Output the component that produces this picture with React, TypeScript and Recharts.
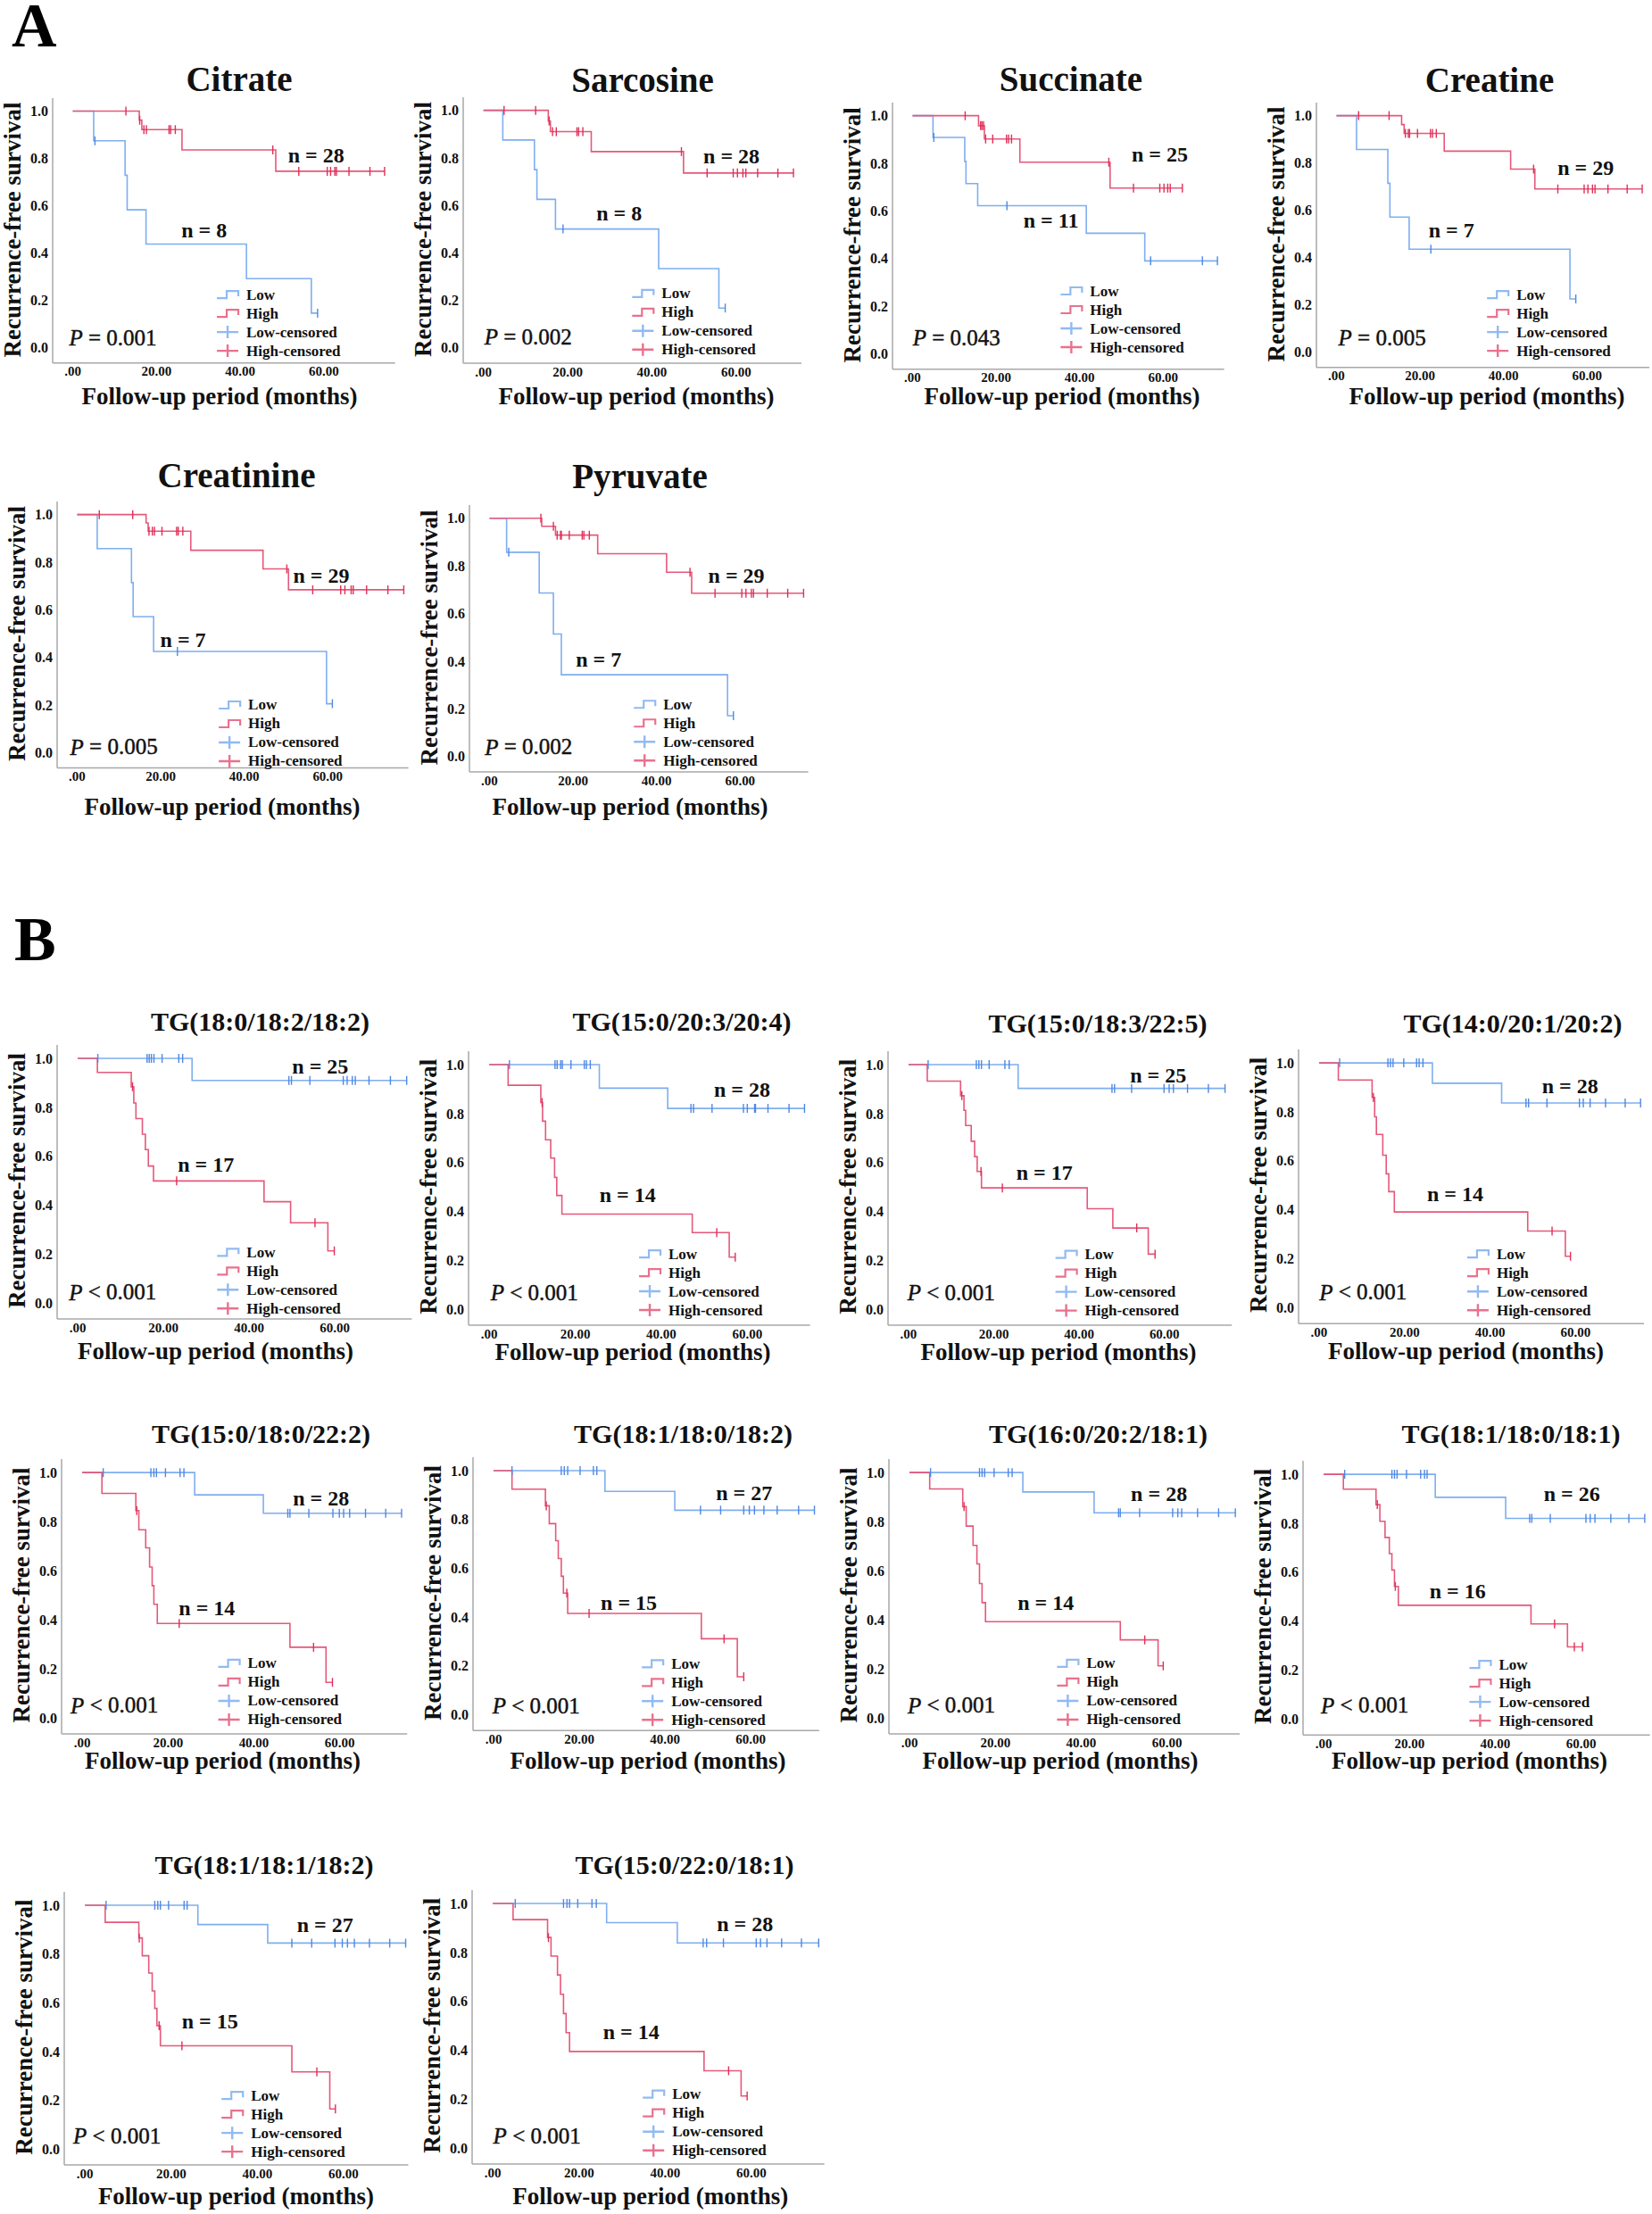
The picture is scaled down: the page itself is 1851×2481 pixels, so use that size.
import React from 'react';
import { ComposedChart, Line, Scatter, XAxis, YAxis } from 'recharts';

const FONT = '"Liberation Serif", "Times New Roman", serif';
const LOW = '#7eaef0';
const HIGH = '#e5587a';
const LOW_MARK = '#4f88e3';
const HIGH_MARK = '#e02f58';
const AXIS = '#a8a8a8';

// survival curves: events as [months, survival after event], censored as months
const citrateLow = [[5.0, 0.875], [12.5, 0.729], [13.0, 0.583], [17.5, 0.438], [41.5, 0.292], [57.0, 0.146]];
const citrateLowCens = [5.3, 58.5];
const citrateHigh = [[15.9, 0.962], [16.5, 0.922], [26.1, 0.836], [48.5, 0.746]];
const citrateHighCens = [12.7, 16.0, 17.0, 17.6, 23.0, 23.4, 24.5, 47.8, 54.0, 60.8, 61.6, 62.6, 63.0, 66.0, 71.0, 74.5];

const sarcosineLow = [[4.6, 0.875], [12.1, 0.75], [12.7, 0.625], [17.1, 0.5], [41.6, 0.333], [55.9, 0.167]];
const sarcosineLowCens = [18.9, 57.4];
const sarcosineHigh = [[15.4, 0.955], [15.9, 0.91], [25.6, 0.826], [47.5, 0.736]];
const sarcosineHighCens = [4.9, 12.4, 15.6, 16.4, 17.3, 22.2, 22.6, 23.6, 47.0, 53.1, 59.3, 60.3, 61.6, 62.3, 65.1, 69.9, 73.6];

const succinateLow = [[4.9, 0.909], [12.5, 0.808], [12.8, 0.715], [15.6, 0.622], [41.6, 0.506], [55.6, 0.39]];
const succinateLowCens = [5.1, 22.6, 57.0, 69.4, 73.0];
const succinateHigh = [[15.8, 0.958], [17.2, 0.902], [25.7, 0.805], [47.3, 0.696]];
const succinateHighCens = [12.6, 16.3, 16.6, 17.0, 17.5, 19.2, 22.5, 23.0, 23.7, 47.0, 52.9, 59.2, 60.2, 61.1, 61.7, 64.6];

const creatineLow = [[4.8, 0.857], [12.3, 0.714], [12.8, 0.571], [17.4, 0.435], [55.9, 0.225]];
const creatineLowCens = [22.6, 57.3];
const creatineHigh = [[15.6, 0.962], [16.2, 0.925], [25.8, 0.85], [41.7, 0.774], [47.5, 0.69]];
const creatineHighCens = [5.3, 12.6, 16.5, 17.2, 17.5, 19.4, 22.5, 23.0, 23.9, 47.2, 53.0, 59.3, 60.2, 61.3, 61.9, 65.0, 69.6, 73.2];

const creatinineLow = [[4.8, 0.857], [13.0, 0.714], [13.4, 0.571], [18.3, 0.425], [59.7, 0.205]];
const creatinineLowCens = [24.0, 61.1];
const creatinineHigh = [[16.5, 0.965], [17.0, 0.93], [27.2, 0.85], [44.5, 0.772], [50.6, 0.684]];
const creatinineHighCens = [5.3, 13.3, 17.2, 18.0, 18.5, 20.3, 23.8, 24.2, 25.3, 50.2, 56.4, 63.1, 64.1, 65.6, 66.1, 69.3, 74.4, 78.2];

const pyruvateLow = [[4.1, 0.857], [11.9, 0.686], [15.3, 0.514], [17.2, 0.343], [57.0, 0.171]];
const pyruvateLowCens = [4.6, 58.4];
const pyruvateHigh = [[12.5, 0.966], [15.8, 0.929], [25.9, 0.851], [42.4, 0.773], [48.4, 0.685]];
const pyruvateHighCens = [12.3, 15.3, 16.2, 17.0, 17.2, 19.1, 22.2, 22.6, 23.9, 48.0, 54.0, 60.4, 61.4, 62.7, 63.2, 66.5, 71.4, 75.2];

const tg1Low = [[26.7, 0.91]];
const tg1LowCens = [4.7, 16.2, 16.7, 17.2, 17.8, 19.7, 23.6, 24.5, 49.3, 49.9, 54.2, 62.0, 62.9, 64.1, 64.8, 68.0, 73.0, 76.8];
const tg1High = [[4.6, 0.943], [12.5, 0.884], [13.1, 0.818], [13.6, 0.754], [15.1, 0.69], [15.8, 0.627], [16.5, 0.56], [17.7, 0.499], [43.5, 0.414], [49.7, 0.328], [58.4, 0.213]];
const tg1HighCens = [12.8, 23.1, 55.4, 59.9];

const tg2Low = [[25.6, 0.904], [41.5, 0.821]];
const tg2LowCens = [4.7, 15.3, 15.8, 16.6, 17.0, 19.0, 22.1, 22.6, 23.5, 46.9, 47.5, 51.8, 59.1, 60.0, 61.7, 61.9, 64.8, 69.7, 73.3];
const tg2High = [[4.4, 0.916], [12.0, 0.845], [12.4, 0.769], [13.1, 0.693], [14.3, 0.618], [15.2, 0.539], [15.7, 0.465], [16.9, 0.389], [47.2, 0.313], [55.8, 0.213]];
const tg2HighCens = [12.3, 52.9, 57.2];

const tg3Low = [[25.7, 0.903]];
const tg3LowCens = [4.6, 15.9, 16.5, 17.1, 18.9, 22.6, 23.6, 47.7, 48.3, 52.3, 59.9, 61.1, 62.1, 65.4, 70.3, 74.2];
const tg3High = [[4.4, 0.933], [12.2, 0.873], [13.0, 0.813], [13.4, 0.751], [14.7, 0.687], [15.5, 0.624], [16.1, 0.563], [17.1, 0.496], [41.9, 0.411], [47.9, 0.332], [56.2, 0.225]];
const tg3HighCens = [12.5, 17.0, 22.0, 53.5, 57.8];

const tg4Low = [[26.5, 0.917], [42.7, 0.836]];
const tg4LowCens = [4.8, 16.1, 16.7, 17.3, 19.8, 22.8, 23.4, 24.3, 48.4, 49.0, 53.3, 60.9, 61.8, 63.4, 67.0, 71.6, 75.2];
const tg4High = [[4.5, 0.93], [12.4, 0.859], [13.0, 0.78], [13.4, 0.708], [14.9, 0.623], [15.7, 0.547], [16.3, 0.474], [17.6, 0.391], [48.8, 0.313], [57.6, 0.21]];
const tg4HighCens = [12.7, 54.5, 58.8];

const tg5Low = [[26.2, 0.909], [42.2, 0.834]];
const tg5LowCens = [4.9, 16.0, 16.7, 17.3, 19.4, 22.8, 23.7, 47.9, 48.4, 52.8, 58.4, 59.9, 60.9, 62.3, 66.0, 70.7, 74.4];
const tg5High = [[4.6, 0.915], [12.5, 0.845], [13.2, 0.767], [14.8, 0.693], [15.7, 0.615], [16.3, 0.539], [16.7, 0.463], [17.5, 0.385], [48.4, 0.288], [56.8, 0.145]];
const tg5HighCens = [12.7, 22.6, 53.9, 58.3];

const tg6Low = [[26.0, 0.915], [42.3, 0.838]];
const tg6LowCens = [4.3, 15.8, 16.5, 17.3, 20.2, 23.3, 24.1, 48.3, 53.0, 58.4, 59.7, 60.9, 63.1, 66.2, 71.2, 74.9];
const tg6High = [[4.3, 0.924], [12.1, 0.856], [13.0, 0.783], [14.5, 0.713], [15.1, 0.64], [15.8, 0.567], [16.3, 0.498], [17.3, 0.415], [48.5, 0.311], [56.9, 0.155]];
const tg6HighCens = [12.3, 17.1, 22.3, 53.8, 58.4];

const tg7Low = [[26.4, 0.921], [43.0, 0.836]];
const tg7LowCens = [4.9, 16.3, 16.9, 17.5, 19.7, 23.0, 23.9, 48.7, 49.1, 53.6, 61.3, 62.5, 63.4, 67.1, 72.0, 75.9];
const tg7High = [[4.7, 0.933], [12.4, 0.861], [13.2, 0.782], [14.8, 0.703], [15.7, 0.628], [16.3, 0.548], [16.9, 0.47], [17.7, 0.392], [49.1, 0.318], [57.9, 0.212]];
const tg7HighCens = [12.7, 54.8, 59.1];

const tg8Low = [[26.0, 0.906], [42.4, 0.82]];
const tg8LowCens = [4.9, 15.9, 16.5, 17.1, 19.3, 22.6, 23.5, 24.1, 48.0, 48.5, 52.8, 61.1, 62.1, 63.2, 66.9, 71.1, 74.8];
const tg8High = [[4.6, 0.939], [12.2, 0.876], [13.1, 0.808], [14.3, 0.742], [15.3, 0.676], [15.9, 0.609], [16.5, 0.542], [17.4, 0.465], [48.3, 0.389], [56.8, 0.295]];
const tg8HighCens = [12.5, 16.7, 53.8, 58.4, 60.3];

const tg9Low = [[26.2, 0.921], [42.4, 0.845]];
const tg9LowCens = [4.9, 16.2, 16.9, 17.5, 19.4, 23.0, 23.7, 48.0, 52.6, 58.0, 59.7, 60.9, 62.5, 66.0, 70.7, 74.4];
const tg9High = [[4.7, 0.93], [12.5, 0.866], [13.3, 0.793], [14.8, 0.722], [15.6, 0.649], [16.2, 0.577], [16.7, 0.506], [17.5, 0.424], [48.0, 0.317], [56.8, 0.165]];
const tg9HighCens = [12.6, 17.2, 22.5, 53.8, 58.1];

const tg10Low = [[26.4, 0.922], [42.8, 0.839]];
const tg10LowCens = [5.2, 16.4, 17.2, 17.8, 19.7, 23.0, 24.0, 48.8, 49.6, 53.5, 61.1, 62.1, 63.6, 67.0, 71.6, 75.6];
const tg10High = [[4.7, 0.934], [12.7, 0.861], [13.5, 0.785], [15.0, 0.708], [15.7, 0.629], [16.4, 0.55], [17.0, 0.472], [17.8, 0.395], [49.0, 0.316], [57.6, 0.213]];
const tg10HighCens = [12.9, 54.7, 59.0];

const titles = [
  'Citrate', 'Sarcosine', 'Succinate', 'Creatine', 'Creatinine', 'Pyruvate',
  'TG(18:0/18:2/18:2)', 'TG(15:0/20:3/20:4)', 'TG(15:0/18:3/22:5)', 'TG(14:0/20:1/20:2)',
  'TG(15:0/18:0/22:2)', 'TG(18:1/18:0/18:2)', 'TG(16:0/20:2/18:1)', 'TG(18:1/18:0/18:1)',
  'TG(18:1/18:1/18:2)', 'TG(15:0/22:0/18:1)',
];
const nLow = [8, 8, 11, 7, 7, 7, 25, 28, 25, 28, 28, 27, 28, 26, 27, 28];
const nHigh = [28, 28, 25, 29, 29, 29, 17, 14, 17, 14, 14, 15, 14, 16, 15, 14];
const pValues = ['= 0.001', '= 0.002', '= 0.043', '= 0.005', '= 0.005', '= 0.002',
  '< 0.001', '< 0.001', '< 0.001', '< 0.001', '< 0.001', '< 0.001', '< 0.001', '< 0.001', '< 0.001', '< 0.001'];
const xTicks = [0, 20, 40, 60];
const yTicks = [0, 0.2, 0.4, 0.6, 0.8, 1.0];
const legendLabels = ['Low', 'High', 'Low-censored', 'High-censored'];

const series = [
  [citrateLow, citrateLowCens, citrateHigh, citrateHighCens],
  [sarcosineLow, sarcosineLowCens, sarcosineHigh, sarcosineHighCens],
  [succinateLow, succinateLowCens, succinateHigh, succinateHighCens],
  [creatineLow, creatineLowCens, creatineHigh, creatineHighCens],
  [creatinineLow, creatinineLowCens, creatinineHigh, creatinineHighCens],
  [pyruvateLow, pyruvateLowCens, pyruvateHigh, pyruvateHighCens],
  [tg1Low, tg1LowCens, tg1High, tg1HighCens],
  [tg2Low, tg2LowCens, tg2High, tg2HighCens],
  [tg3Low, tg3LowCens, tg3High, tg3HighCens],
  [tg4Low, tg4LowCens, tg4High, tg4HighCens],
  [tg5Low, tg5LowCens, tg5High, tg5HighCens],
  [tg6Low, tg6LowCens, tg6High, tg6HighCens],
  [tg7Low, tg7LowCens, tg7High, tg7HighCens],
  [tg8Low, tg8LowCens, tg8High, tg8HighCens],
  [tg9Low, tg9LowCens, tg9High, tg9HighCens],
  [tg10Low, tg10LowCens, tg10High, tg10HighCens],
];

// panel placement: pixel of t=0, px per month, pixel of s=1 and s=0, axis end,
// title (center, baseline, size), x label (center, baseline), annotation spots in data units
const layout = [
  { x0: 81.7, pxm: 4.69, y1: 125, y0: 390, xMax: 77, title: [268, 102, 39], xLab: [246, 453], nLowAt: [25.9, 0.5], nHighAt: [51.4, 0.815], pAt: [-0.9, 0.044], legAt: [34.4, 0.226] },
  { x0: 541.7, pxm: 4.72, y1: 124, y0: 390, xMax: 75.5, title: [720, 103, 39], xLab: [713, 453], nLowAt: [26.8, 0.566], nHighAt: [52.2, 0.81], pAt: [0.2, 0.048], legAt: [35.3, 0.23] },
  { x0: 1022.7, pxm: 4.68, y1: 130, y0: 396.7, xMax: 74.6, title: [1200, 102, 39], xLab: [1190, 453], nLowAt: [26.5, 0.562], nHighAt: [52.4, 0.838], pAt: [0, 0.069], legAt: [35.4, 0.265] },
  { x0: 1497.7, pxm: 4.68, y1: 130, y0: 395, xMax: 74.9, title: [1669, 103, 39], xLab: [1666, 453], nLowAt: [22, 0.516], nHighAt: [52.9, 0.78], pAt: [0.4, 0.063], legAt: [36, 0.245] },
  { x0: 86, pxm: 4.68, y1: 576.7, y0: 843.3, xMax: 79.3, title: [265, 546, 39], xLab: [249, 913], nLowAt: [20, 0.475], nHighAt: [51.8, 0.744], pAt: [-1.6, 0.025], legAt: [34, 0.2] },
  { x0: 548.3, pxm: 4.68, y1: 581, y0: 848, xMax: 76.3, title: [717, 547, 39], xLab: [706, 913], nLowAt: [20.7, 0.41], nHighAt: [52.4, 0.76], pAt: [-1.1, 0.042], legAt: [34.6, 0.22] },
  { x0: 87.3, pxm: 4.8, y1: 1186, y0: 1460, xMax: 78, title: [291.5, 1155, 30], xLab: [241.5, 1523], nLowAt: [50, 0.967], nHighAt: [23.3, 0.566], pAt: [-2.1, 0.045], legAt: [32.5, 0.207] },
  { x0: 548.3, pxm: 4.82, y1: 1192.7, y0: 1466.7, xMax: 74.6, title: [764, 1155, 30], xLab: [709, 1524], nLowAt: [52.2, 0.898], nHighAt: [25.6, 0.466], pAt: [0.3, 0.067], legAt: [34.8, 0.225] },
  { x0: 1017.7, pxm: 4.78, y1: 1192.7, y0: 1466.7, xMax: 75.8, title: [1230, 1157, 30], xLab: [1186, 1524], nLowAt: [52, 0.955], nHighAt: [25.3, 0.556], pAt: [-0.2, 0.067], legAt: [34.5, 0.223] },
  { x0: 1478.2, pxm: 4.79, y1: 1190.7, y0: 1465, xMax: 76, title: [1695, 1157, 30], xLab: [1642.5, 1523], nLowAt: [52.1, 0.905], nHighAt: [25.2, 0.462], pAt: [0, 0.063], legAt: [34.6, 0.218] },
  { x0: 92.1, pxm: 4.81, y1: 1650, y0: 1925, xMax: 75.7, title: [292.6, 1617, 30], xLab: [249.5, 1982], nLowAt: [49.1, 0.893], nHighAt: [22.5, 0.448], pAt: [-2.7, 0.051], legAt: [31.7, 0.222] },
  { x0: 552.6, pxm: 4.8, y1: 1648.3, y0: 1921.7, xMax: 76, title: [765.6, 1617, 30], xLab: [726, 1982], nLowAt: [52, 0.909], nHighAt: [25.1, 0.46], pAt: [-0.2, 0.039], legAt: [34.7, 0.21] },
  { x0: 1019.4, pxm: 4.81, y1: 1650, y0: 1925, xMax: 76.9, title: [1230.6, 1617, 30], xLab: [1188, 1982], nLowAt: [51.5, 0.911], nHighAt: [25.1, 0.47], pAt: [-0.5, 0.051], legAt: [34.3, 0.222] },
  { x0: 1482.9, pxm: 4.81, y1: 1651.7, y0: 1926, xMax: 76, title: [1693, 1617, 30], xLab: [1646.5, 1982], nLowAt: [51.3, 0.917], nHighAt: [24.7, 0.522], pAt: [-0.6, 0.055], legAt: [34, 0.222] },
  { x0: 95.1, pxm: 4.83, y1: 2135, y0: 2408.3, xMax: 75, title: [296, 2100, 30], xLab: [264.4, 2470], nLowAt: [49.2, 0.92], nHighAt: [22.5, 0.524], pAt: [-2.7, 0.055], legAt: [31.7, 0.22] },
  { x0: 552.6, pxm: 4.83, y1: 2132.7, y0: 2406.7, xMax: 76.9, title: [767, 2100, 30], xLab: [728.7, 2470], nLowAt: [51.9, 0.915], nHighAt: [25.5, 0.472], pAt: [0, 0.049], legAt: [34.7, 0.219] },
];

const X_MIN = -4.8;
const Y_MIN = -0.065;
const Y_MAX = 1.055;

function survivalAt(events, t) {
  let s = 1;
  events.forEach(([et, es]) => { if (et <= t) s = es; });
  return s;
}

function curve(events, cens) {
  const pts = [{ t: 0, s: 1 }, ...events.map(([t, s]) => ({ t, s }))];
  const end = Math.max(...cens);
  const last = pts[pts.length - 1];
  if (end > last.t) pts.push({ t: end, s: last.s });
  return pts;
}

function censPoints(events, cens) {
  return cens.map((t) => ({ t, s: survivalAt(events, t) }));
}

const censorMark = (color) => (props) => {
  const { cx, cy } = props;
  if (cx == null || cy == null) return null;
  return <path d={`M${cx},${cy - 5}V${cy + 5}`} stroke={color} strokeWidth={1.4} />;
};

const xTickStyle = { fontFamily: FONT, fontSize: 15, fontWeight: 'bold', fill: '#111' };
const yTickStyle = { fontFamily: FONT, fontSize: 16, fontWeight: 'bold', fill: '#111' };

function frame(lay) {
  const L = lay.x0 + X_MIN * lay.pxm;
  const R = lay.x0 + lay.xMax * lay.pxm;
  const unit = lay.y0 - lay.y1;
  const T = lay.y0 - Y_MAX * unit;
  const B = lay.y0 - Y_MIN * unit;
  const px = (t) => lay.x0 + t * lay.pxm;
  const py = (s) => lay.y0 - s * unit;
  return { L, R, T, B, px, py };
}

function Panel({ idx }) {
  const lay = layout[idx];
  const [lowEv, lowCens, highEv, highCens] = series[idx];
  const { L, R, T, B } = frame(lay);
  const W = R - L + 70;
  const H = B - T + 40;
  return (
    <div style={{ position: 'absolute', left: L - 60, top: T - 10, width: W, height: H }}>
      <ComposedChart width={W} height={H} margin={{ top: 10, right: 10, bottom: 0, left: 0 }}>
        <XAxis
          type="number"
          dataKey="t"
          domain={[X_MIN, lay.xMax]}
          ticks={xTicks}
          allowDataOverflow
          height={30}
          tickLine={false}
          tickSize={2}
          tickMargin={2}
          axisLine={{ stroke: AXIS, strokeWidth: 1.5 }}
          tick={xTickStyle}
          tickFormatter={(v) => (v === 0 ? '.00' : v.toFixed(2))}
        />
        <YAxis
          type="number"
          dataKey="s"
          domain={[Y_MIN, Y_MAX]}
          ticks={yTicks}
          allowDataOverflow
          width={60}
          tickLine={false}
          tickSize={2}
          tickMargin={3}
          axisLine={{ stroke: AXIS, strokeWidth: 1.5 }}
          tick={yTickStyle}
          tickFormatter={(v) => v.toFixed(1)}
        />
        <Line data={curve(lowEv, lowCens)} dataKey="s" type="stepAfter" stroke={LOW} strokeWidth={1.6} dot={false} isAnimationActive={false} />
        <Line data={curve(highEv, highCens)} dataKey="s" type="stepAfter" stroke={HIGH} strokeWidth={1.6} dot={false} isAnimationActive={false} />
        <Scatter data={censPoints(lowEv, lowCens)} dataKey="s" shape={censorMark(LOW_MARK)} isAnimationActive={false} />
        <Scatter data={censPoints(highEv, highCens)} dataKey="s" shape={censorMark(HIGH_MARK)} isAnimationActive={false} />
      </ComposedChart>
    </div>
  );
}

function Texts({ idx }) {
  const lay = layout[idx];
  const { L, px, py } = frame(lay);
  const [lx, ly] = [px(lay.legAt[0]), py(lay.legAt[1])];
  const colors = [LOW, HIGH, LOW, HIGH];
  return (
    <g fontFamily={FONT} fill="#111">
      <text x={lay.title[0]} y={lay.title[1]} fontSize={lay.title[2]} fontWeight="bold" textAnchor="middle">{titles[idx]}</text>
      <text
        transform={`translate(${L - 45},${(lay.y0 + lay.y1) / 2}) rotate(-90)`}
        fontSize={27}
        fontWeight="bold"
        textAnchor="middle"
        dominantBaseline="central"
      >
        Recurrence-free survival
      </text>
      <text x={lay.xLab[0]} y={lay.xLab[1]} fontSize={27} fontWeight="bold" textAnchor="middle">Follow-up period (months)</text>
      <text x={px(lay.nLowAt[0])} y={py(lay.nLowAt[1])} fontSize={24} fontWeight="bold" dominantBaseline="central">{`n = ${nLow[idx]}`}</text>
      <text x={px(lay.nHighAt[0])} y={py(lay.nHighAt[1])} fontSize={24} fontWeight="bold" dominantBaseline="central">{`n = ${nHigh[idx]}`}</text>
      <text x={px(lay.pAt[0])} y={py(lay.pAt[1])} fontSize={25} stroke="#111" strokeWidth={0.45} dominantBaseline="central">
        <tspan fontStyle="italic">P</tspan>
        {` ${pValues[idx]}`}
      </text>
      {legendLabels.map((lab, i) => {
        const cy = ly + i * 21;
        const icon = i < 2
          ? <path d={`M${lx},${cy + 4}H${lx + 11}V${cy - 4}H${lx + 24}V${cy + 2}`} fill="none" stroke={colors[i]} strokeWidth={2.2} opacity={0.85} />
          : <path d={`M${lx},${cy}H${lx + 24}M${lx + 12},${cy - 7}V${cy + 7}`} fill="none" stroke={colors[i]} strokeWidth={2.4} opacity={0.85} />;
        return (
          <g key={lab}>
            {icon}
            <text x={lx + 33} y={cy} fontSize={17} fontWeight="bold" dominantBaseline="central">{lab}</text>
          </g>
        );
      })}
    </g>
  );
}

export default function App() {
  return (
    <div style={{ position: 'absolute', left: 0, top: 0, width: 1851, height: 2481, background: '#fff', overflow: 'hidden' }}>
      {layout.map((_, i) => <Panel key={i} idx={i} />)}
      <svg width={1851} height={2481} style={{ position: 'absolute', left: 0, top: 0, pointerEvents: 'none' }}>
        <text x={13} y={52} fontFamily={FONT} fontSize={70} fontWeight="bold" fill="#000">A</text>
        <text x={16} y={1076} fontFamily={FONT} fontSize={70} fontWeight="bold" fill="#000">B</text>
        {layout.map((_, i) => <Texts key={i} idx={i} />)}
      </svg>
    </div>
  );
}
